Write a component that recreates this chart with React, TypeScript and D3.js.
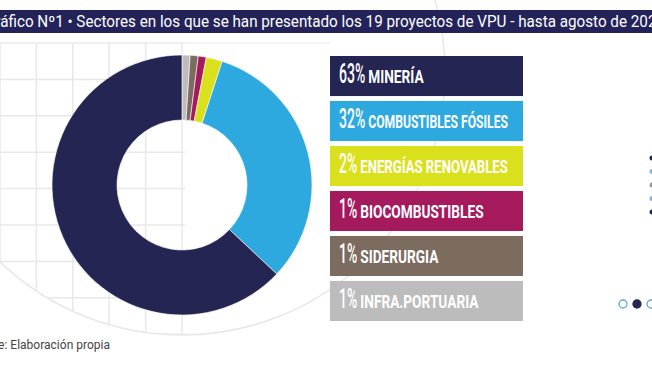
import React, { useEffect, useRef } from 'react';
import * as d3 from 'd3';

const sectors = ['MINERÍA', 'COMBUSTIBLES FÓSILES', 'ENERGÍAS RENOVABLES', 'BIOCOMBUSTIBLES', 'SIDERURGIA', 'INFRA.PORTUARIA'];
const shares = [63, 32, 2, 1, 1, 1];
const sectorColors = ['#252553', '#2ea9e0', '#dbe01c', '#a5195d', '#7c6c5f', '#bcbcbc'];
const title = 'Gráfico Nº1 • Sectores en los que se han presentado los 19 proyectos de VPU - hasta agosto de 2021';
const source = 'Fuente: Elaboración propia';

const App = () => {
  const width = 652;
  const height = 367;
  const svgRef = useRef<SVGSVGElement | null>(null);

  useEffect(() => {
    const svg = d3.select(svgRef.current);
    svg.selectAll('*').remove();

    // background grid clipped by a big circle
    const defs = svg.append('defs');
    defs.append('clipPath').attr('id', 'globe')
      .append('circle').attr('cx', 182).attr('cy', 72).attr('r', 263);
    const grid = svg.append('g').attr('clip-path', 'url(#globe)');
    const gx = d3.range(0, 200, 36.4);
    const gy = d3.range(43, 340, 36.4);
    grid.selectAll('line.v').data(gx).enter().append('line')
      .attr('x1', d => d).attr('x2', d => d).attr('y1', 43).attr('y2', 340)
      .attr('stroke', '#e8e8e8').attr('stroke-width', 1.5);
    grid.selectAll('line.h').data(gy).enter().append('line')
      .attr('x1', 0).attr('x2', 185).attr('y1', d => d).attr('y2', d => d)
      .attr('stroke', '#e8e8e8').attr('stroke-width', 1.5);
    svg.append('circle').attr('cx', 182).attr('cy', 72).attr('r', 263)
      .attr('fill', 'none').attr('stroke', '#e8e8e8').attr('stroke-width', 1.5);
    svg.append('line').attr('x1', 0).attr('x2', 330).attr('y1', 43).attr('y2', 43)
      .attr('stroke', '#f0f0f0').attr('stroke-width', 1.5);

    // title bar
    svg.append('rect').attr('x', 0).attr('y', 10).attr('width', width).attr('height', 23).attr('fill', '#23235a');
    svg.append('text').attr('x', -15).attr('y', 27)
      .attr('textLength', 680).attr('lengthAdjust', 'spacingAndGlyphs')
      .style('font-family', 'Roboto').style('font-size', '16px').style('fill', '#fff')
      .text(title);

    // donut
    const items = sectors.map((s, i) => ({ label: s, value: shares[i], color: sectorColors[i] }));
    const pie = d3.pie<typeof items[0]>().value(d => d.value).sort(null);
    const arc = d3.arc<d3.PieArcDatum<typeof items[0]>>().innerRadius(65).outerRadius(130);
    const g = svg.append('g').attr('transform', 'translate(182,185)');
    g.selectAll('path').data(pie(items.slice().reverse())).enter().append('path')
      .attr('d', arc as any)
      .attr('fill', d => d.data.color)
      .attr('stroke', '#fff').attr('stroke-width', 0.6);

    // legend boxes
    const boxW = 193;
    const y = d3.scaleBand<number>().domain(d3.range(sectors.length)).range([56, 321]).paddingInner(0.11);
    const leg = svg.selectAll('g.leg').data(items).enter().append('g')
      .attr('transform', (d, i) => `translate(330,${y(i)})`);
    leg.append('rect').attr('width', boxW).attr('height', y.bandwidth())
      .attr('fill', d => d.color);
    leg.each(function (d) {
      const el = d3.select(this);
      const num = el.append('text').attr('y', 27)
        .style('font-family', 'Roboto').style('font-weight', 500).style('font-size', '28px').style('fill', '#fff')
        .text(`${d.value}%`);
      const nw = (num.node() as SVGTextElement).getComputedTextLength() * 0.5;
      num.attr('transform', 'translate(9,0) scale(0.5,1)');
      const lx = 9 + nw + 3;
      const lab = el.append('text').attr('y', 27)
        .style('font-family', 'Roboto').style('font-weight', 700).style('font-size', '18px').style('fill', '#fff')
        .text(d.label);
      const raw = (lab.node() as SVGTextElement).getComputedTextLength();
      const k = Math.min(0.76, (boxW - 15 - lx) / raw);
      lab.attr('transform', `translate(${lx},0) scale(${k},1)`);
    });

    // carousel dots on the right edge
    const dotColors = ['#252553', '#7fb8d8', '#999999', '#7fb8d8', '#252553'];
    svg.selectAll('circle.side').data(dotColors).enter().append('circle')
      .attr('cx', 652).attr('cy', (d, i) => 158 + i * 13.5).attr('r', 2.5)
      .attr('fill', d => d);
    const pager = [623, 637, 651];
    svg.selectAll('circle.pg').data(pager).enter().append('circle')
      .attr('cx', d => d).attr('cy', 304).attr('r', 4)
      .attr('fill', (d, i) => (i === 1 ? '#252553' : '#fff'))
      .attr('stroke', (d, i) => (i === 1 ? '#252553' : '#5aa9d6')).attr('stroke-width', 1.3);

    // source
    svg.append('text').attr('x', -32).attr('y', 349)
      .attr('textLength', 142).attr('lengthAdjust', 'spacingAndGlyphs')
      .style('font-family', 'Roboto').style('font-size', '12px').style('fill', '#444')
      .text(source);
  }, []);

  return (
    <svg ref={svgRef} width={width} height={height}
      style={{ position: 'absolute', left: 0, top: 0, background: '#fff' }} />
  );
};

export default App;
